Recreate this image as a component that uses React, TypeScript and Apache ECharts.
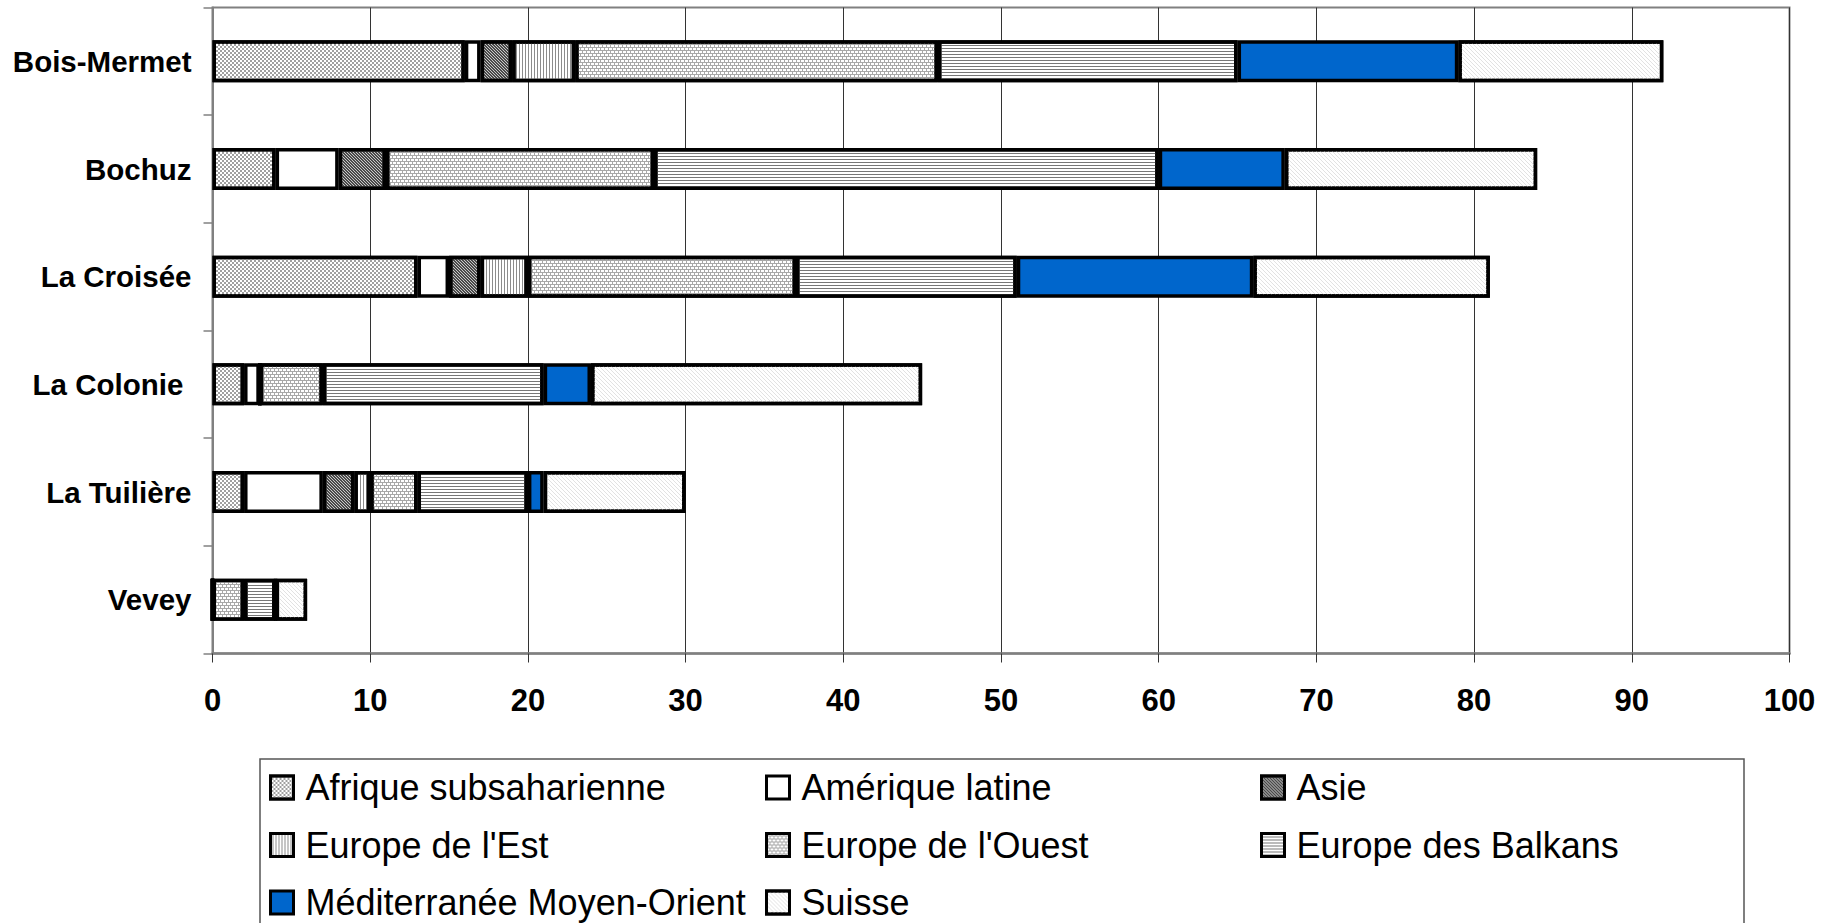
import React, { useEffect, useRef } from 'react';
import * as echarts from 'echarts';

// Prisons (rows) and the regions of origin of their inmates (stacked segments)
const categories = ['Bois-Mermet', 'Bochuz', 'La Croisée', 'La Colonie ', 'La Tuilière', 'Vevey'];

const afriqueSubsaharienne = [16, 4, 13, 2, 2, 0];
const ameriqueLatine = [1, 4, 2, 1, 5, 0];
const asie = [2, 3, 2, 0, 2, 0];
const europeEst = [4, 0, 3, 0, 1, 0];
const europeOuest = [23, 17, 17, 4, 3, 2];
const europeBalkans = [19, 32, 14, 14, 7, 2];
const mediterranee = [14, 8, 15, 3, 1, 0];
const suisse = [13, 16, 15, 21, 9, 2];

const xMin = 0;
const xMax = 100;
const xInterval = 10;

const FONT = "'Liberation Sans', Arial, Helvetica, sans-serif";

// Fill styles: base colour plus an optional hatch/texture decal
const styles: Record<string, { color: string; decal?: any }> = {
  'Afrique subsaharienne': {
    color: '#ffffff',
    decal: { symbol: 'rect', symbolSize: 1, color: '#a0a0a0', dashArrayX: [[2, 2], [0, 2, 2, 0]], dashArrayY: [2, 0] },
  },
  'Amérique latine': { color: '#ffffff' },
  'Asie': {
    color: '#c8c8c8',
    decal: { symbol: 'rect', symbolSize: 1, color: '#4a4a4a', dashArrayX: [[2, 1], [0, 1, 2, 0], [1, 1, 1, 0]], dashArrayY: [1, 0] },
  },
  "Europe de l'Est": {
    color: '#ffffff',
    decal: { symbol: 'rect', symbolSize: 1, color: '#8c8c8c', dashArrayX: [[1, 2]], dashArrayY: [1, 0] },
  },
  "Europe de l'Ouest": {
    color: '#ffffff',
    decal: {
      symbol: 'rect',
      symbolSize: 1,
      color: '#a8a8a8',
      dashArrayX: [[4, 0], [1, 3], [1, 3], [4, 0], [0, 2, 1, 1], [0, 2, 1, 1]],
      dashArrayY: [1, 0],
    },
  },
  'Europe des Balkans': {
    color: '#ffffff',
    decal: { symbol: 'rect', symbolSize: 1, color: '#777777', dashArrayX: [[4, 0]], dashArrayY: [1, 2] },
  },
  'Méditerranée Moyen-Orient': { color: '#0066cc' },
  'Suisse': {
    color: '#ffffff',
    decal: {
      symbol: 'rect',
      symbolSize: 1,
      color: '#e2e2e2',
      dashArrayX: [[1, 3], [0, 1, 1, 2], [0, 2, 1, 1], [0, 3, 1, 0]],
      dashArrayY: [1, 0],
    },
  },
};

const seriesData: [string, number[]][] = [
  ['Afrique subsaharienne', afriqueSubsaharienne],
  ['Amérique latine', ameriqueLatine],
  ['Asie', asie],
  ["Europe de l'Est", europeEst],
  ["Europe de l'Ouest", europeOuest],
  ['Europe des Balkans', europeBalkans],
  ['Méditerranée Moyen-Orient', mediterranee],
  ['Suisse', suisse],
];

// Legend columns
const legendColumns = [
  ['Afrique subsaharienne', "Europe de l'Est", 'Méditerranée Moyen-Orient'],
  ['Amérique latine', "Europe de l'Ouest", 'Suisse'],
  ['Asie', 'Europe des Balkans'],
];
const legendLefts = [269, 765, 1260];

export default function App() {
  const ref = useRef<HTMLDivElement>(null);

  useEffect(() => {
    if (!ref.current) return;
    const chart = echarts.init(ref.current, null, { renderer: 'svg' });

    const series = seriesData.map(([name, values]) => ({
      name,
      type: 'bar',
      stack: 'total',
      barWidth: 42,
      data: values,
      itemStyle: {
        color: styles[name].color,
        borderColor: '#000',
        borderWidth: 3.5,
        decal: styles[name].decal,
      },
      emphasis: { disabled: true },
    }));

    const legends = legendColumns.map((names, i) => ({
      orient: 'vertical',
      left: legendLefts[i],
      top: 769.5,
      padding: 0,
      itemGap: 21.5,
      itemWidth: 37,
      itemHeight: 23,
      symbolKeepAspect: true,
      icon: 'path://M0,0H10V10H0Z',
      selectedMode: false,
      data: names,
      itemStyle: { borderColor: '#000', borderWidth: 3 },
      textStyle: { fontSize: 36, fontFamily: FONT, color: '#000', lineHeight: 36 },
    }));

    chart.setOption({
      animation: false,
      backgroundColor: '#ffffff',
      grid: {
        left: 212.5,
        right: 39.5,
        top: 7.5,
        bottom: 269.5,
        show: true,
        borderColor: '#808080',
        borderWidth: 2,
        containLabel: false,
      },
      xAxis: {
        type: 'value',
        min: xMin,
        max: xMax,
        interval: xInterval,
        axisLine: { show: true, lineStyle: { color: '#808080', width: 2.5 } },
        axisTick: { show: true, length: 9, lineStyle: { color: '#333', width: 1 } },
        splitLine: { show: true, lineStyle: { color: '#333', width: 1 } },
        axisLabel: {
          margin: 31,
          fontSize: 31,
          fontWeight: 'bold',
          fontFamily: FONT,
          color: '#000',
        },
      },
      yAxis: {
        type: 'category',
        inverse: true,
        data: categories,
        axisLine: { show: true, lineStyle: { color: '#808080', width: 2 } },
        axisTick: { show: true, length: 9, lineStyle: { color: '#808080', width: 1.5 } },
        axisLabel: {
          margin: 21,
          fontSize: 29.5,
          fontWeight: 'bold',
          fontFamily: FONT,
          color: '#000',
        },
      },
      legend: legends,
      graphic: [
        {
          type: 'rect',
          z: -10,
          shape: { x: 260, y: 759, width: 1484, height: 200 },
          style: { fill: 'none', stroke: '#555', lineWidth: 1.5 },
        },
      ],
      series,
    });

    return () => chart.dispose();
  }, []);

  return (
    <div
      ref={ref}
      style={{ position: 'fixed', left: 0, top: 0, width: 1829, height: 923 }}
    />
  );
}
